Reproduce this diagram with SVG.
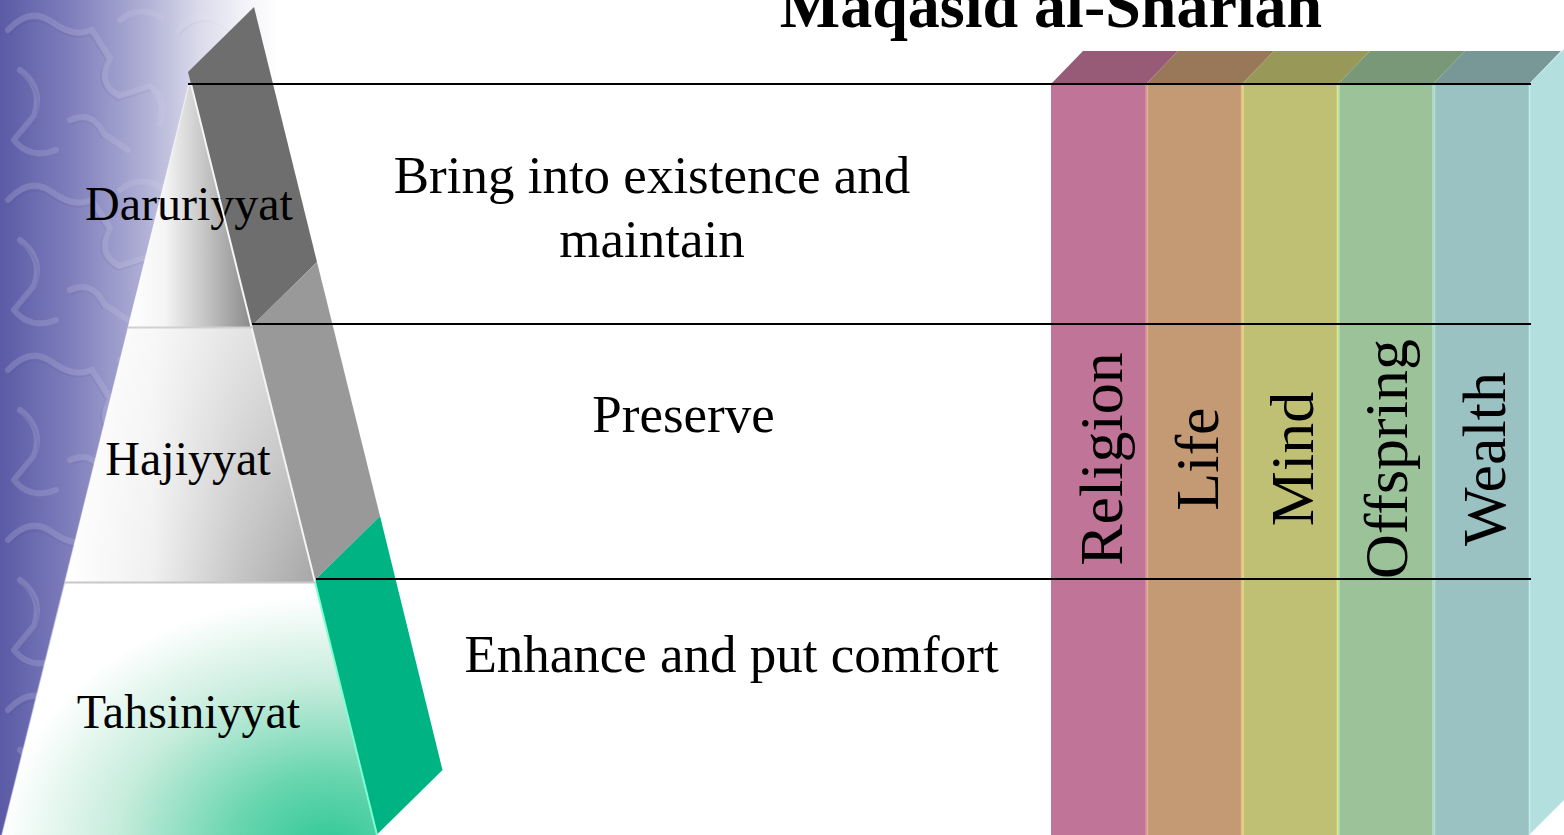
<svg xmlns="http://www.w3.org/2000/svg" width="1564" height="835" viewBox="0 0 1564 835">
  <defs>
    <style>
      .serif { font-family: "Liberation Serif", "Times New Roman", serif; fill: #000; }
      .lvl { font-size: 48px; text-anchor: middle; }
      .desc { font-size: 53px; text-anchor: middle; }
      .col { font-size: 62px; text-anchor: middle; }
      .rule { stroke: #000; stroke-width: 2; fill: none; }
    </style>
    <!-- left backdrop tint -->
    <linearGradient id="bgFade" x1="0" y1="0" x2="1" y2="0">
      <stop offset="0" stop-color="#5a5aa6"/>
      <stop offset="0.25" stop-color="#7e7ebc"/>
      <stop offset="0.5" stop-color="#acacd4"/>
      <stop offset="0.72" stop-color="#dcdcec"/>
      <stop offset="0.9" stop-color="#f6f6fa"/>
      <stop offset="1" stop-color="#ffffff"/>
    </linearGradient>
    <linearGradient id="patFade" x1="0" y1="0" x2="1" y2="0">
      <stop offset="0" stop-color="#fff" stop-opacity="1"/>
      <stop offset="0.55" stop-color="#fff" stop-opacity="0.5"/>
      <stop offset="0.9" stop-color="#fff" stop-opacity="0"/>
    </linearGradient>
    <mask id="patMask">
      <rect x="0" y="0" width="280" height="835" fill="url(#patFade)"/>
    </mask>
    <!-- soft arabesque texture -->
    <pattern id="arabesque" x="0" y="0" width="170" height="170" patternUnits="userSpaceOnUse">
      <path d="M8 30 Q30 6 52 22 T92 30 L110 58 Q96 84 120 96 L150 86 Q168 100 160 124 M20 70 Q44 88 34 116 L14 140 Q30 160 56 150 M70 120 Q92 110 104 134 L128 150 M120 20 Q140 4 162 18" fill="none" stroke="#ffffff" stroke-opacity="0.16" stroke-width="6" stroke-linecap="round" stroke-linejoin="round"/>
      <path d="M10 34 Q30 12 52 27 T90 34 L106 60 Q92 86 118 100 L150 90 M22 74 Q44 92 36 118 L18 140 M72 124 Q92 114 102 138" fill="none" stroke="#40408c" stroke-opacity="0.12" stroke-width="2" stroke-linecap="round" stroke-linejoin="round"/>
    </pattern>
    <!-- pyramid front faces -->
    <linearGradient id="topFace" x1="128" y1="0" x2="252" y2="0" gradientUnits="userSpaceOnUse">
      <stop offset="0" stop-color="#ffffff"/>
      <stop offset="0.3" stop-color="#f4f4f4"/>
      <stop offset="0.6" stop-color="#c8c8c8"/>
      <stop offset="1" stop-color="#8a8a8a"/>
    </linearGradient>
    <linearGradient id="midFace" x1="65" y1="0" x2="316" y2="0" gradientUnits="userSpaceOnUse">
      <stop offset="0" stop-color="#ffffff"/>
      <stop offset="0.35" stop-color="#f0f0f0"/>
      <stop offset="0.7" stop-color="#c4c4c4"/>
      <stop offset="1" stop-color="#a6a6a6"/>
    </linearGradient>
    <linearGradient id="midShade" x1="0" y1="328" x2="0" y2="582" gradientUnits="userSpaceOnUse">
      <stop offset="0" stop-color="#ffffff" stop-opacity="0.55"/>
      <stop offset="1" stop-color="#ffffff" stop-opacity="0"/>
    </linearGradient>
    <radialGradient id="lowFace" cx="330" cy="850" r="300" gradientUnits="userSpaceOnUse" gradientTransform="translate(330 850) scale(1.1 0.85) translate(-330 -850)">
      <stop offset="0" stop-color="#2ec896"/>
      <stop offset="0.3" stop-color="#6ad6b0"/>
      <stop offset="0.65" stop-color="#c6ecdc"/>
      <stop offset="1" stop-color="#ffffff"/>
    </radialGradient>
  </defs>

  <rect x="0" y="0" width="1564" height="835" fill="#ffffff"/>

  <!-- backdrop -->
  <g id="backdrop">
    <rect x="0" y="0" width="280" height="835" fill="url(#bgFade)"/>
    <rect x="0" y="0" width="280" height="835" fill="url(#arabesque)" mask="url(#patMask)"/>
  </g>

  <!-- title -->
  <text id="title" class="serif" x="1051" y="27" font-size="64" font-weight="bold" text-anchor="middle">Maqasid al-Shariah</text>

  <!-- pyramid -->
  <g id="pyramid-side">
    <polygon points="188,72 254,7 317,262 251,327" fill="#6e6e6e"/>
    <polygon points="251,327 317,262 380,516 314,581" fill="#999999"/>
    <polygon points="314,581 380,516 442.5,770 376.5,835" fill="#00b383"/>
  </g>

  <g id="level-daruriyyat">
    <polygon points="189,84 191,84 252,327 128,327" fill="url(#topFace)"/>
    <text class="serif lvl" x="189" y="220">Daruriyyat</text>
  </g>

  <g id="level-hajiyyat">
    <polygon points="128,328 252,328 315,582 65,582" fill="url(#midFace)"/>
    <polygon points="128,328 252,328 315,582 65,582" fill="url(#midShade)"/>
    <text class="serif lvl" x="188" y="475">Hajiyyat</text>
  </g>

  <g id="level-tahsiniyyat">
    <polygon points="65,583 315,583 377,835 2,835" fill="url(#lowFace)"/>
    <text class="serif lvl" x="188.5" y="728">Tahsiniyyat</text>
  </g>

  <!-- pyramid edge highlights -->
  <g id="pyramid-edges" fill="none">
    <line x1="189" y1="84" x2="2" y2="835" stroke="#ffffff" stroke-opacity="0.5" stroke-width="1.5"/>
    <line x1="191" y1="84" x2="315" y2="582" stroke="#f4f4f4" stroke-width="2"/>
    <line x1="315" y1="582" x2="377" y2="835" stroke="#7fffd0" stroke-width="2"/>
    <line x1="128" y1="327.5" x2="252" y2="327.5" stroke="#d0d0d0" stroke-width="2"/>
    <line x1="65" y1="582.5" x2="315" y2="582.5" stroke="#c8c8c8" stroke-width="2"/>
  </g>

  <!-- five objectives block -->
  <g id="objectives">
    <g id="col-religion">
      <polygon points="1051,84 1146,84 1178,51 1083,51" fill="#985b77"/>
      <rect x="1051" y="84" width="95.5" height="751" fill="#c07498"/>
      <line x1="1146" y1="84" x2="1146" y2="835" stroke="#e08cb4" stroke-width="1.5"/>
    </g>
    <g id="col-life">
      <polygon points="1146,84 1242,84 1274,51 1178,51" fill="#987858"/>
      <rect x="1146.5" y="84" width="95.5" height="751" fill="#c39a73"/>
      <line x1="1147.5" y1="84" x2="1147.5" y2="835" stroke="#e0b088" stroke-width="1.5"/>
      <line x1="1241.5" y1="84" x2="1241.5" y2="835" stroke="#e6b88c" stroke-width="1.5"/>
    </g>
    <g id="col-mind">
      <polygon points="1242,84 1338,84 1370,51 1274,51" fill="#989858"/>
      <rect x="1242" y="84" width="96" height="751" fill="#c0c074"/>
      <line x1="1243" y1="84" x2="1243" y2="835" stroke="#e4dc88" stroke-width="1.5"/>
      <line x1="1337.5" y1="84" x2="1337.5" y2="835" stroke="#e6e688" stroke-width="1.5"/>
    </g>
    <g id="col-offspring">
      <polygon points="1338,84 1433,84 1465,51 1370,51" fill="#789878"/>
      <rect x="1338" y="84" width="95.5" height="751" fill="#9bc298"/>
      <line x1="1339" y1="84" x2="1339" y2="835" stroke="#b8e4b4" stroke-width="1.5"/>
      <line x1="1433" y1="84" x2="1433" y2="835" stroke="#b8e4c4" stroke-width="1.5"/>
    </g>
    <g id="col-wealth">
      <polygon points="1433,84 1529,84 1561,51 1465,51" fill="#789898"/>
      <rect x="1433.5" y="84" width="95.5" height="751" fill="#9bc2c2"/>
      <line x1="1434.5" y1="84" x2="1434.5" y2="835" stroke="#b4dede" stroke-width="1.5"/>
    </g>
    <g id="block-side">
      <polygon points="1529,84 1564,49 1564,800 1529,835" fill="#b3dfdf"/>
      <line x1="1529.5" y1="84" x2="1529.5" y2="835" stroke="#c6eeee" stroke-width="1.5"/>
    </g>
  </g>

  <!-- level rules -->
  <g id="connectors">
    <line class="rule" x1="188" y1="84" x2="1531" y2="84"/>
    <line class="rule" x1="252" y1="324" x2="1531" y2="324"/>
    <line class="rule" x1="316" y1="579" x2="1531" y2="579"/>
  </g>

  <!-- level descriptions -->
  <g id="desc-daruriyyat">
    <text class="serif desc" x="652" y="193">Bring into existence and</text>
    <text class="serif desc" x="652" y="257">maintain</text>
  </g>
  <g id="desc-hajiyyat">
    <text class="serif desc" x="683.5" y="432">Preserve</text>
  </g>
  <g id="desc-tahsiniyyat">
    <text class="serif desc" x="731.5" y="672">Enhance and put comfort</text>
  </g>

  <!-- column labels -->
  <g id="labels">
    <text class="serif col" transform="translate(1122 459) rotate(-90)">Religion</text>
    <text class="serif col" transform="translate(1218 459) rotate(-90)">Life</text>
    <text class="serif col" transform="translate(1313 459) rotate(-90)">Mind</text>
    <text class="serif col" transform="translate(1407 459) rotate(-90)">Offspring</text>
    <text class="serif col" transform="translate(1505 459) rotate(-90)">Wealth</text>
  </g>
</svg>
